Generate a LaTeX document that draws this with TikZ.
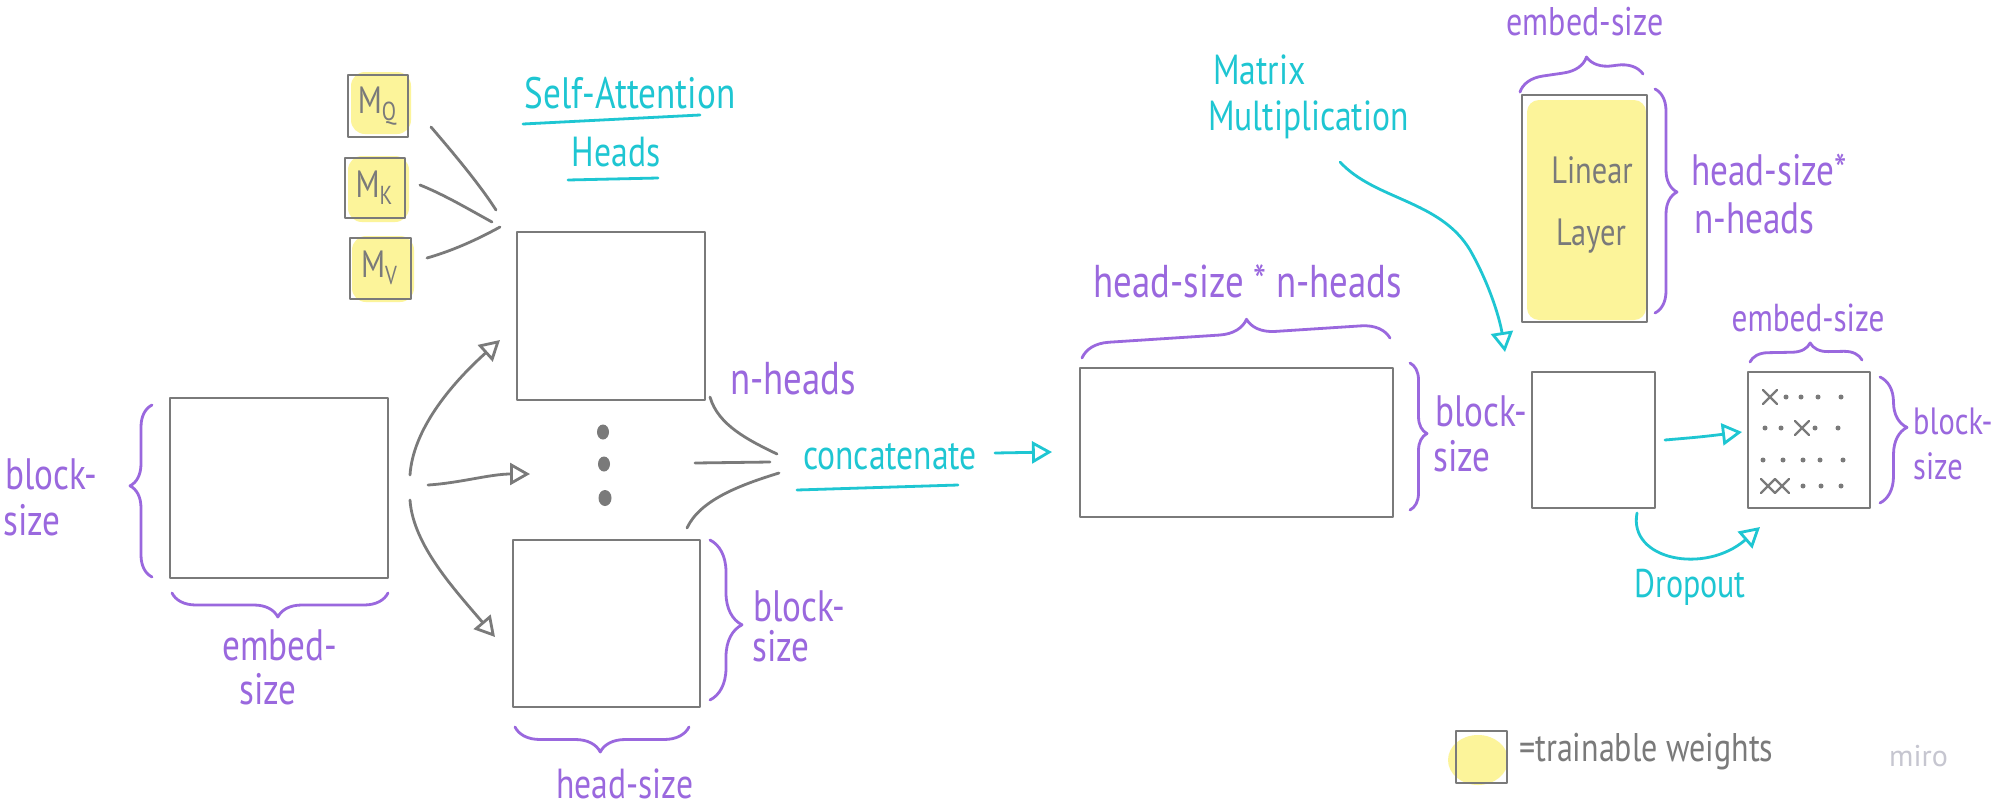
\documentclass[tikz,border=0pt]{standalone}
\usepackage{fontspec}
\setmainfont{PT Sans}[FakeStretch=0.8]
\newfontfamily\mirofont{PT Sans}
\usetikzlibrary{arrows.meta,decorations.pathreplacing}
\definecolor{lgray}{HTML}{7A7A7A}
\definecolor{purp}{HTML}{9A68DE}
\definecolor{cyn}{HTML}{1EC6D2}
\definecolor{hiyel}{HTML}{FCF49A}
\definecolor{mirog}{HTML}{C6C6D0}
\newcommand\hsz[1]{\fontsize{#1}{#1}\selectfont}
\begin{document}
\begin{tikzpicture}[x=1pt,y=-1pt,line cap=round,line join=round,
  box/.style={draw=lgray,line width=2.8pt,inner sep=0pt},
  gl/.style={draw=lgray,line width=2.8pt},
  cl/.style={draw=cyn,line width=2.8pt},
  brc/.style={draw=purp,line width=2.8pt,decorate},
  tri/.style={-{Triangle[open,length=20pt,width=22pt]}},
  ptxt/.style={text=purp,inner sep=0pt},
  ctxt/.style={text=cyn,inner sep=0pt},
  gtxt/.style={text=lgray,inner sep=0pt},
  hl/.style={fill=hiyel,draw=none}]
\useasboundingbox (0,0) rectangle (2000,809);
\fill[white] (0,0) rectangle (2000,809);

% yellow highlights
\fill[hl,rounded corners=14pt] (351,72) rectangle (411,134);
\fill[hl,rounded corners=14pt] (348,156) rectangle (409,222);
\fill[hl,rounded corners=14pt] (352,236) rectangle (414,302);
\fill[hl,rounded corners=12pt] (1527,100) rectangle (1646,320);
\fill[hl] (1478,760) ellipse [x radius=30pt,y radius=25pt];

% boxes
\node[box,minimum width=218pt,minimum height=180pt] (inp) at (279,488) {};
\node[box,minimum width=188pt,minimum height=168pt] (h1) at (611,316) {};
\node[box,minimum width=187pt,minimum height=167pt] (h2) at (606.5,623.5) {};
\node[box,minimum width=313pt,minimum height=149pt] (cat) at (1236.5,442.5) {};
\node[box,minimum width=125pt,minimum height=227pt] (lin) at (1584.5,208.5) {};
\node[box,minimum width=123pt,minimum height=136pt] (mm) at (1593.5,440) {};
\node[box,minimum width=122pt,minimum height=136pt] (res) at (1809,440) {};
\node[box,minimum width=60pt,minimum height=62pt] (mqb) at (378,106) {};
\node[box,minimum width=60pt,minimum height=60pt] (mkb) at (375,188) {};
\node[box,minimum width=61pt,minimum height=61pt] (mvb) at (380.5,268.5) {};
\node[box,minimum width=51pt,minimum height=52pt] (leg) at (1481.5,757) {};

% M labels
\node[gtxt] (mq) at (377,106) {\hsz{38}M\raisebox{-7pt}{\hsz{26}Q}};
\node[gtxt] (mk) at (374,188) {\hsz{38}M\raisebox{-7pt}{\hsz{26}K}};
\node[gtxt] (mv) at (379,268) {\hsz{38}M\raisebox{-7pt}{\hsz{26}V}};

% M connectors
\coordinate (mqe) at (431,127); \coordinate (mke) at (420,185); \coordinate (mve) at (427,258);
\coordinate (j1) at (496,210); \coordinate (j2) at (492,222); \coordinate (j3) at (500,227);
\draw[gl] (mqe) .. controls (455,155) and (480,185) .. (j1);
\draw[gl] (mke) .. controls (445,195) and (470,210) .. (j2);
\draw[gl] (mve) .. controls (455,250) and (480,238) .. (j3);

% arrows from input
\coordinate (a1s) at (410,475); \coordinate (a1e) at (500,340);
\coordinate (a2s) at (428,485); \coordinate (a2e) at (530,474);
\coordinate (a3s) at (410,500); \coordinate (a3e) at (495,637);
\draw[gl,tri] (a1s) .. controls (413,430) and (450,385) .. (a1e);
\draw[gl,tri] (a2s) .. controls (460,483) and (490,474) .. (a2e);
\draw[gl,tri] (a3s) .. controls (413,545) and (455,590) .. (a3e);

% ellipsis dots
\fill[lgray] (603,432) ellipse [x radius=6pt,y radius=7.5pt];
\fill[lgray] (604,464) ellipse [x radius=6pt,y radius=7.5pt];
\fill[lgray] (605,498) ellipse [x radius=6.5pt,y radius=8pt];

% heads to concatenate
\coordinate (c1s) at (710,397); \coordinate (c1e) at (777,454);
\coordinate (c2s) at (695,463); \coordinate (c2e) at (770,462);
\coordinate (c3s) at (687,528); \coordinate (c3e) at (779,473);
\draw[gl] (c1s) .. controls (718,425) and (748,440) .. (c1e);
\draw[gl] (c2s) -- (c2e);
\draw[gl] (c3s) .. controls (700,500) and (740,485) .. (c3e);

% texts left part
\node[ptxt,anchor=west,font=\hsz{44}] (bl1) at (5,474) {block-};
\node[ptxt,anchor=west,font=\hsz{44}] (bl2) at (3,520) {size};
\node[ptxt,font=\hsz{44}] (em1) at (280,645) {embed-};
\node[ptxt,font=\hsz{44}] (em2) at (268,689) {size};
\node[ptxt,anchor=west,font=\hsz{44}] (bm1) at (753,606) {block-};
\node[ptxt,anchor=west,font=\hsz{44}] (bm2) at (752,646) {size};
\node[ptxt,font=\hsz{42}] (hs) at (625,784) {head-size};
\node[ptxt,font=\hsz{46}] (nh) at (793,379) {n-heads};
\node[ctxt,font=\hsz{44}] (sa) at (630,93) {Self-Attention};
\node[ctxt,font=\hsz{42}] (hd) at (616,152) {Heads};
\draw[cl] (523,124) -- (700,115);
\draw[cl] (568,180) -- (658,178);
\node[ctxt,font=\hsz{42}] (cc) at (890,457) {concatenate};
\draw[cl] (797,490) -- (958,485);
\coordinate (cas) at (995,453); \coordinate (cae) at (1052,452);
\draw[cl,tri] (cas) -- (cae);

% braces left part
\draw[brc,decoration={brace,amplitude=22pt,aspect=0.53}] (152,577) -- (152,405);
\draw[brc,decoration={brace,amplitude=24pt,aspect=0.51}] (388,593) -- (172,593);
\draw[brc,decoration={brace,amplitude=32pt,aspect=0.53}] (710,540) -- (710,700);
\draw[brc,decoration={brace,amplitude=25pt,aspect=0.51}] (689,727) -- (515,727);

% concat box labels
\node[ptxt,font=\hsz{46}] (hsn) at (1248,281) {head-size * n-heads};
\draw[brc,decoration={brace,amplitude=28pt,aspect=0.54}] (1082,358) -- (1390,338);
\draw[brc,decoration={brace,amplitude=17pt,aspect=0.48}] (1410,363) -- (1410,510);
\node[ptxt,anchor=west,font=\hsz{44}] (bc1) at (1435,411) {block-};
\node[ptxt,anchor=west,font=\hsz{44}] (bc2) at (1433,456) {size};

% matrix multiplication
\node[ctxt,anchor=west,font=\hsz{42}] (mx1) at (1213,70) {Matrix};
\node[ctxt,anchor=west,font=\hsz{42}] (mx2) at (1208,120) {Multiplication};
\coordinate (mms) at (1340,162); \coordinate (mme) at (1505,352);
\draw[cl,tri] (mms) .. controls (1375,200) and (1440,200) .. (1470,250) .. controls (1490,285) and (1500,320) .. (mme);

% linear layer
\node[gtxt,font=\hsz{38}] (ln1) at (1592,170) {Linear};
\node[gtxt,font=\hsz{38}] (ln2) at (1591,236) {Layer};
\node[ptxt,font=\hsz{40}] (es1) at (1585,22) {embed-size};
\draw[brc,decoration={brace,amplitude=25pt,aspect=0.57}] (1520,92) -- (1643,74);
\draw[brc,decoration={brace,amplitude=22pt,aspect=0.46}] (1655,89) -- (1655,313);
\node[ptxt,anchor=west,font=\hsz{44}] (hn1) at (1691,170) {head-size*};
\node[ptxt,anchor=west,font=\hsz{44}] (hn2) at (1694,218) {n-heads};

% result part
\coordinate (ras) at (1665,440); \coordinate (rae) at (1742,432);
\draw[cl,tri] (ras) .. controls (1700,437) .. (rae);
\coordinate (ds) at (1637,513); \coordinate (de) at (1760,527);
\draw[cl,tri] (ds) .. controls (1628,560) and (1705,575) .. (de);
\node[ctxt,font=\hsz{40}] (dp) at (1690,587) {Dropout};
\node[ptxt,font=\hsz{39}] (es2) at (1808,318) {embed-size};
\draw[brc,decoration={brace,amplitude=18pt,aspect=0.54}] (1750,362) -- (1862,360);
\draw[brc,decoration={brace,amplitude=27pt,aspect=0.40}] (1880,377) -- (1880,503);
\node[ptxt,anchor=west,font=\hsz{38}] (br1) at (1913,421) {block-};
\node[ptxt,anchor=west,font=\hsz{38}] (br2) at (1913,466) {size};

% dropout matrix marks
\foreach \x/\y in {1770/397,1802/428,1768/486,1782/486}{
  \draw[gl,line width=2.4pt] (\x-7,\y-7) -- (\x+7,\y+7) (\x-7,\y+7) -- (\x+7,\y-7);}
\foreach \x/\y in {1786/397,1801/397,1818/397,1841/397,
                   1765/428,1781/428,1815/428,1838/428,
                   1763/460,1783/460,1803/460,1820/460,1843/460,
                   1803/486,1821/486,1841/486}{
  \fill[lgray] (\x,\y) circle (2.5pt);}

% legend
\node[gtxt,anchor=west,font=\hsz{40}] (tw) at (1519,752) {=trainable weights};
\node[text=mirog,anchor=west,inner sep=0pt,font=\mirofont\hsz{30}] (miro) at (1889,756) {miro};
\end{tikzpicture}
\end{document}
